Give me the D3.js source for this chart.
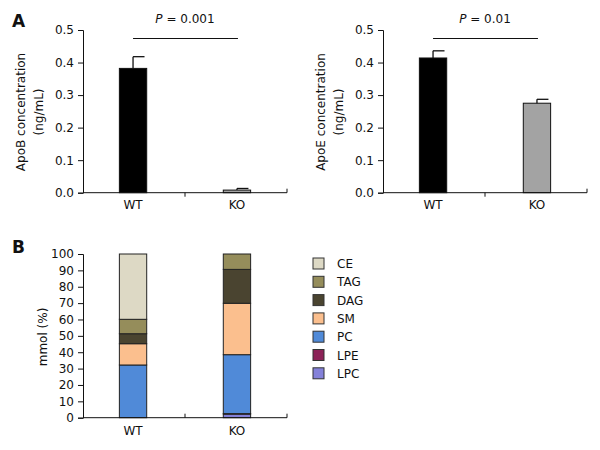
<!DOCTYPE html>
<html><head><meta charset="utf-8">
<script src="https://cdn.jsdelivr.net/npm/d3@7"></script>
<style>body{margin:0;background:#fff}svg{display:block}text{font-family:"DejaVu Sans",Verdana,sans-serif;fill:#111}</style>
</head><body><svg id="c" width="600" height="450"></svg>
<script>
// ---- data ----
const groups = ["WT", "KO"];
const apoB = [0.382, 0.008];
const apoBErr = [0.036, 0.005];
const apoE = [0.414, 0.275];
const apoEErr = [0.022, 0.012];
const barColors = ["#000000", "#a3a3a3"];
const pTextB = "P = 0.001";
const pTextE = "P = 0.01";
const concTicks = [0.0, 0.1, 0.2, 0.3, 0.4, 0.5];
const lipidTicks = [0,10,20,30,40,50,60,70,80,90,100];
const lipids = ["LPC", "LPE", "PC", "SM", "DAG", "TAG", "CE"];
const lipidWT = [0, 0, 32.2, 13.0, 6.1, 8.8, 39.9];
const lipidKO = [2.2, 0.3, 36.0, 31.4, 20.7, 9.4, 0];
const lipidColors = ["#8481d9", "#8c2257", "#508ad8", "#fbbf8e", "#4a4430", "#958d5b", "#ddd9c5"];

const FS = "12px";
const svg = d3.select("#c");

function bandScale(x0) {
  return d3.scaleBand().domain(groups).range([x0, x0 + 204]).paddingInner(0.737).paddingOuter(0.35);
}

function panelA(x0, values, errs, ylabel, ptext) {
  const x = bandScale(x0);
  const y = d3.scaleLinear().domain([0, 0.5]).range([192.7, 30]);
  const g = svg.append("g");
  g.selectAll("rect.bar").data(groups).enter().append("rect")
    .attr("x", d => x(d)).attr("width", x.bandwidth())
    .attr("y", (d, i) => y(values[i])).attr("height", (d, i) => y(0) - y(values[i]))
    .attr("fill", (d, i) => barColors[i]).attr("stroke", "#111").attr("stroke-width", 1);
  groups.forEach((d, i) => {
    const cx = x(d) + x.bandwidth() / 2;
    g.append("line").attr("x1", cx).attr("x2", cx).attr("y1", y(values[i])).attr("y2", y(values[i] + errs[i])).attr("stroke", "#111").attr("stroke-width", 1.3);
    g.append("line").attr("x1", cx).attr("x2", cx + x.bandwidth() * 0.42).attr("y1", y(values[i] + errs[i])).attr("y2", y(values[i] + errs[i])).attr("stroke", "#111").attr("stroke-width", 1.3);
  });
  const ya = g.append("g").attr("transform", `translate(${x0},0)`)
    .call(d3.axisLeft(y).tickValues(concTicks).tickFormat(d3.format(".1f")).tickSize(5).tickPadding(4));
  ya.selectAll("text").style("font-size", FS);
  ya.selectAll("path,line").attr("stroke", "#111");
  g.append("line").attr("x1", x0).attr("x2", x0 + 204).attr("y1", y(0)).attr("y2", y(0)).attr("stroke", "#111");
  g.append("line").attr("x1", x0 + 102).attr("x2", x0 + 102).attr("y1", y(0)).attr("y2", y(0) + 4).attr("stroke", "#111");
  g.append("line").attr("x1", x0 + 204).attr("x2", x0 + 204).attr("y1", y(0)).attr("y2", y(0) - 4).attr("stroke", "#111");
  g.selectAll("text.xl").data(groups).enter().append("text")
    .attr("x", d => x(d) + x.bandwidth() / 2).attr("y", 209).attr("text-anchor", "middle").style("font-size", FS).text(d => d);
  const lab = g.append("text").attr("transform", `translate(${x0 - 58},112) rotate(-90)`).attr("text-anchor", "middle").style("font-size", FS);
  lab.append("tspan").attr("x", 0).attr("dy", 0).text(ylabel);
  lab.append("tspan").attr("x", 0).attr("dy", 18).text("(ng/mL)");
  const c0 = x(groups[0]) + x.bandwidth() / 2, c1 = x(groups[1]) + x.bandwidth() / 2;
  g.append("line").attr("x1", c0).attr("x2", c1 + 1).attr("y1", 38.5).attr("y2", 38.5).attr("stroke", "#111");
  const pt = g.append("text").attr("x", (c0 + c1) / 2).attr("y", 23).attr("text-anchor", "middle").style("font-size", FS);
  pt.append("tspan").style("font-style", "italic").text("P");
  pt.append("tspan").text(ptext.slice(1));
}
panelA(83, apoB, apoBErr, "ApoB concentration", pTextB);
panelA(383, apoE, apoEErr, "ApoE concentration", pTextE);

svg.append("text").attr("x", 12).attr("y", 27).style("font-size", "17px").style("font-weight", "bold").text("A");
svg.append("text").attr("x", 12).attr("y", 253).style("font-size", "17px").style("font-weight", "bold").text("B");

(function () {
  const x0 = 83;
  const x = bandScale(x0);
  const y = d3.scaleLinear().domain([0, 100]).range([417.7, 254]);
  const rows = groups.map((gname, i) => {
    const o = { group: gname };
    lipids.forEach((l, j) => o[l] = (i === 0 ? lipidWT : lipidKO)[j]);
    return o;
  });
  const stack = d3.stack().keys(lipids)(rows);
  const g = svg.append("g");
  stack.forEach((layer, li) => {
    g.selectAll(null).data(layer.filter(d => d[1] - d[0] > 0)).enter().append("rect")
      .attr("x", d => x(d.data.group)).attr("width", x.bandwidth())
      .attr("y", d => y(d[1])).attr("height", d => y(d[0]) - y(d[1]))
      .attr("fill", lipidColors[li]).attr("stroke", "#222").attr("stroke-width", 1);
  });
  const ya = g.append("g").attr("transform", `translate(${x0},0)`)
    .call(d3.axisLeft(y).tickValues(lipidTicks).tickSize(5).tickPadding(4));
  ya.selectAll("text").style("font-size", FS);
  ya.selectAll("path,line").attr("stroke", "#111");
  g.append("line").attr("x1", x0).attr("x2", x0 + 204).attr("y1", y(0)).attr("y2", y(0)).attr("stroke", "#111");
  g.append("line").attr("x1", x0 + 102).attr("x2", x0 + 102).attr("y1", y(0)).attr("y2", y(0) - 4).attr("stroke", "#111");
  g.append("line").attr("x1", x0 + 204).attr("x2", x0 + 204).attr("y1", y(0)).attr("y2", y(0) - 4).attr("stroke", "#111");
  g.selectAll("text.xl").data(groups).enter().append("text")
    .attr("x", d => x(d) + x.bandwidth() / 2).attr("y", 435).attr("text-anchor", "middle").style("font-size", FS).text(d => d);
  g.append("text").attr("transform", `translate(47,337) rotate(-90)`).attr("text-anchor", "middle").style("font-size", FS).text("mmol (%)");
  const leg = lipids.slice().reverse();
  const lg = svg.append("g");
  leg.forEach((l, i) => {
    const cy = 263.5 + i * 18.3;
    const ci = lipids.indexOf(l);
    lg.append("rect").attr("x", 313).attr("y", cy - 5.5).attr("width", 11).attr("height", 11).attr("fill", lipidColors[ci]).attr("stroke", "#333").attr("stroke-width", 1);
    lg.append("text").attr("x", 337).attr("y", cy + 4.5).style("font-size", FS).text(l);
  });
})();
</script></body></html>
